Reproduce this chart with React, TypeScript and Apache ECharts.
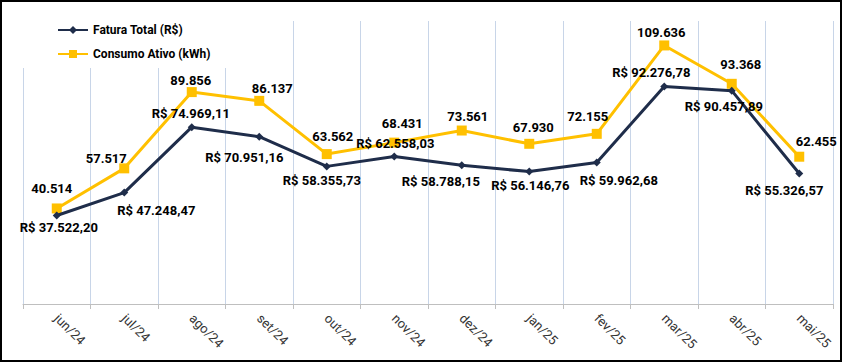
import React, { useEffect, useRef } from "react";
import * as echarts from "echarts";

const categories = ["jun/24", "jul/24", "ago/24", "set/24", "out/24", "nov/24", "dez/24", "jan/25", "fev/25", "mar/25", "abr/25", "mai/25"];
const faturaTotal = [37522.2, 47248.47, 74969.11, 70951.16, 58355.73, 62558.03, 58788.15, 56146.76, 59962.68, 92276.78, 90457.89, 55326.57];
const consumoAtivo = [40514, 57517, 89856, 86137, 63562, 68431, 73561, 67930, 72155, 109636, 93368, 62455];

// label placement (style) relative to each point
const faturaLabelOffsets = [[2, 12], [32, 18], [-1, -14], [-15, 21], [-5, 14], [1, -13], [-21, 16], [1, 14], [22, 18], [-13, -14], [-8, 16], [-15, 17]];
const consumoLabelOffsets = [[-5, -20], [-18, -10], [-1, -12], [13, -12], [6, -18], [8, -19], [6, -14], [4, -16], [-9, -17], [-3, -13], [9, -19], [17, -15]];

const NAVY = "#1f2d4a";
const GOLD = "#ffc000";
const FONT = "Roboto";

function groupThousands(s: string): string {
  return s.replace(/\B(?=(\d{3})+(?!\d))/g, ".");
}
function fmtBRL(v: number): string {
  const [i, d] = v.toFixed(2).split(".");
  return "R$ " + groupThousands(i) + "," + d;
}
function fmtInt(v: number): string {
  return groupThousands(Math.round(v).toString());
}

export default function App() {
  const ref = useRef<HTMLDivElement>(null);
  useEffect(() => {
    if (!ref.current) return;
    const chart = echarts.init(ref.current, undefined, { renderer: "svg" });
    const labelStyle = { fontFamily: FONT, fontWeight: "bold" as const, fontSize: 13, color: "#000" };
    chart.setOption({
      animation: false,
      backgroundColor: "#fff",
      grid: { left: 23, right: 10, top: 21, bottom: 59 },
      legend: {
        orient: "vertical",
        left: 52,
        top: 19,
        itemWidth: 30,
        itemHeight: 10,
        itemGap: 12,
        textStyle: { fontFamily: FONT, fontWeight: "bold", fontSize: 12, color: "#000" },
        data: ["Fatura Total (R$)", "Consumo Ativo (kWh)"],
      },
      graphic: [
        { type: "rect", z: 1, silent: true, shape: { x: 2, y: 2, width: 262, height: 66 }, style: { fill: "#fff" } },
        { type: "rect", z: 100, silent: true, shape: { x: 1, y: 1, width: 840, height: 360 }, style: { fill: "none", stroke: "#000", lineWidth: 2 } },
      ],
      xAxis: {
        type: "category",
        data: categories,
        boundaryGap: true,
        axisLine: { lineStyle: { color: "#bfbfbf", width: 1 } },
        axisTick: { show: true, length: 5, lineStyle: { color: "#bfbfbf" } },
        splitLine: { show: true, lineStyle: { color: "#c8d5e8", width: 1 } },
        axisLabel: { rotate: -45, margin: 12, fontFamily: FONT, fontSize: 13, color: "#333", interval: 0 },
      },
      yAxis: { type: "value", min: 0, max: 120000, show: false, splitLine: { show: false } },
      series: [
        {
          name: "Fatura Total (R$)",
          type: "line",
          z: 3,
          symbol: "diamond",
          symbolSize: 8,
          itemStyle: { color: NAVY },
          lineStyle: { color: NAVY, width: 3 },
          data: faturaTotal.map((v, i) => ({
            value: v,
            label: { show: true, position: "inside", offset: faturaLabelOffsets[i], formatter: () => fmtBRL(v), ...labelStyle },
          })),
        },
        {
          name: "Consumo Ativo (kWh)",
          type: "line",
          z: 2,
          symbol: "rect",
          symbolSize: 10,
          itemStyle: { color: GOLD },
          lineStyle: { color: GOLD, width: 3 },
          data: consumoAtivo.map((v, i) => ({
            value: v,
            label: { show: true, position: "inside", offset: consumoLabelOffsets[i], formatter: () => fmtInt(v), ...labelStyle },
          })),
        },
      ],
    });
    return () => chart.dispose();
  }, []);
  return <div ref={ref} style={{ position: "fixed", left: 0, top: 0, width: 843, height: 363 }} />;
}
